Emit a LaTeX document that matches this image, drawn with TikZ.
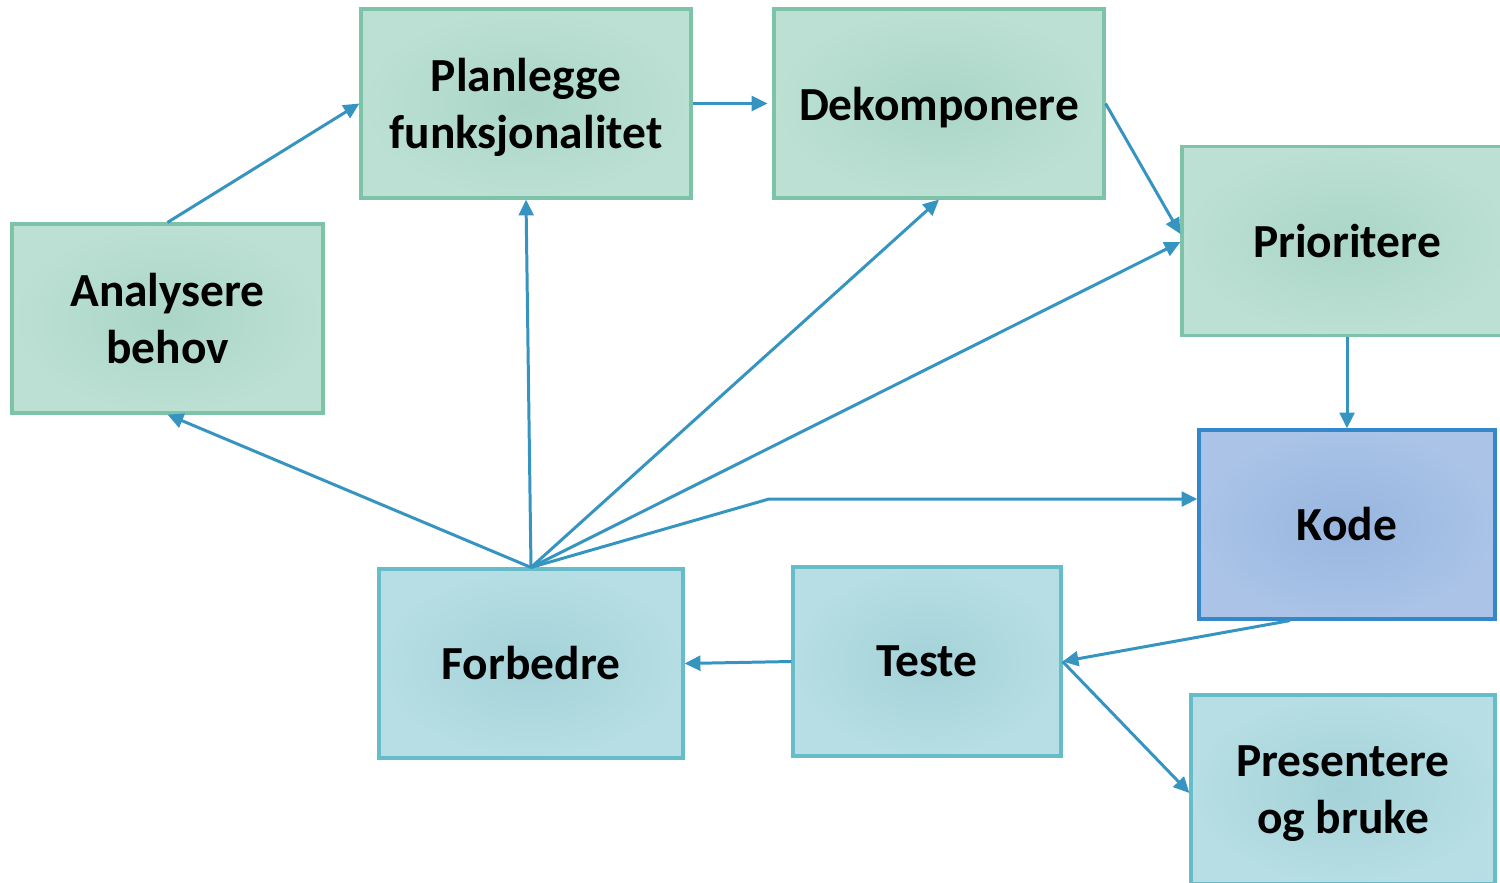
\documentclass[tikz,border=0pt]{standalone}
\usepackage{fontspec}
\setmainfont{Carlito}
\usetikzlibrary{arrows.meta, shapes}
\definecolor{pilfarge}{HTML}{3694C0}
\definecolor{groennkant}{HTML}{7CC3A7}
\definecolor{teal-kant}{HTML}{66BCC8}
\definecolor{blaakant}{HTML}{3487C8}
\tikzset{
	boks/.style={shape=rectangle,line width=0.9pt,minimum height=1.89cm,align=center,
		font=\fontsize{13.5}{16.2}\selectfont\bfseries,inner sep=0pt},
	groenn/.style={draw=groennkant,inner color={rgb,255:red,170;green,214;blue,199},outer color={rgb,255:red,188;green,224;blue,212}},
	blaagroenn/.style={draw=teal-kant,inner color={rgb,255:red,164;green,210;blue,216},outer color={rgb,255:red,182;green,222;blue,228}},
	blaa/.style={draw=blaakant,inner color={rgb,255:red,152;green,182;blue,223},outer color={rgb,255:red,170;green,195;blue,231}},
	pil/.style={draw=pilfarge,line width=0.85pt,-{Triangle[length=4.5pt,width=4.2pt]}},
}

\begin{document}
\begin{tikzpicture}
	\useasboundingbox (0,0) rectangle (15,8.82);
	\clip (0,0) rectangle (15,8.82);
	% boksene
	\node[boks,groenn,minimum width=3.11cm] (analysere) at (1.675,5.635) {Analysere\\behov};
	\node[boks,groenn,minimum width=3.30cm,text depth=0pt] (planlegge) at (5.26,7.785) {Planlegge\\funksjonalitet};
	\node[boks,groenn,minimum width=3.30cm,text depth=0pt] (dekomponere) at (9.39,7.785) {Dekomponere};
	\node[boks,groenn,minimum width=3.30cm] (prioritere) at (13.47,6.41) {Prioritere};
	\node[boks,blaa,minimum width=2.96cm] (kode) at (13.47,3.575) {Kode};
	\node[boks,blaagroenn,minimum width=3.04cm] (forbedre) at (5.31,2.185) {Forbedre};
	\node[boks,blaagroenn,minimum width=2.68cm] (teste) at (9.27,2.205) {Teste};
	\node[boks,blaagroenn,minimum width=3.04cm,text depth=0pt] (presentere) at (13.43,0.925) {Presentere\\og bruke};
	\coordinate (knekk) at (7.69,3.83);
	
	% pilene
	\draw [pil] (analysere.north) -- (planlegge.west);
	\draw [pil] (planlegge.east) -- ([xshift=-1.4pt]dekomponere.west);
	\draw [pil] (dekomponere.east) -- ([yshift=2pt]prioritere.west);
	\draw [pil] (prioritere.south) -- (kode.north);
	\draw [pil] ([xshift=-16.2pt]kode.south) -- (teste.east);
	\draw [pil] (teste.east) -- ([yshift=-1pt]presentere.west);
	\draw [pil] (teste.west) -- (forbedre.east);
	\draw [pil] (forbedre.north) -- (analysere.south);
	\draw [pil] (forbedre.north) -- (planlegge.south);
	\draw [pil] (forbedre.north) -- (dekomponere.south);
	\draw [pil] (forbedre.north) -- ([yshift=-0.3pt]prioritere.west);
	\draw [pil] (forbedre.north) -- (knekk) -- (kode.west |- knekk);
\end{tikzpicture}
\end{document}
